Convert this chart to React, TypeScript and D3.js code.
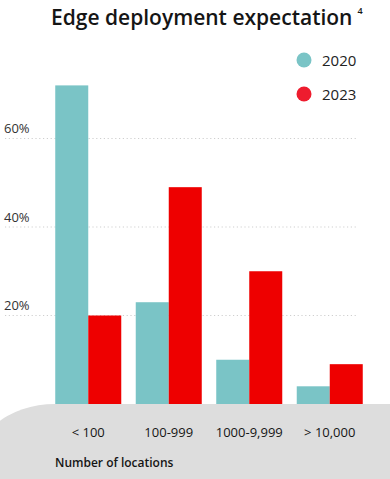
import {useEffect, useRef} from "react"
import * as d3 from "d3"

const categories = ["< 100", "100-999", "1000-9,999", "> 10,000"]
const series = ["2020", "2023"]
const values2020 = [72, 23, 10, 4]
const values2023 = [20, 49, 30, 9]
const yTicks = [20, 40, 60]

const colors = {bar2020: "#7ac4c6", bar2023: "#ee0000", legend2023: "#ee1c2e"}
const font = "'Open Sans', sans-serif"

const App = () => {
  const ref = useRef<SVGSVGElement>(null)

  useEffect(() => {
    const svg = d3.select(ref.current)
    svg.selectAll("*").remove()

    const x0 = d3.scaleBand().domain(categories).range([48, 370]).paddingInner(0.18).paddingOuter(0.09)
    const x1 = d3.scaleBand().domain(series).range([0, x0.bandwidth()])
    const y = d3.scaleLinear().domain([0, 20]).range([404, 315.5])

    // grey footer panel with rounded corner
    svg.append("rect")
      .attr("x", -30).attr("y", y(0))
      .attr("width", 460).attr("height", 200)
      .attr("rx", 85).attr("ry", 70)
      .attr("fill", "#dddddd")
    svg.append("rect")
      .attr("x", 100).attr("y", y(0))
      .attr("width", 300).attr("height", 100)
      .attr("fill", "#dddddd")

    // title
    const title = svg.append("text")
      .attr("x", 51).attr("y", 25)
      .attr("font-family", font).attr("font-size", 21).attr("font-weight", 600)
      .attr("fill", "#151515")
      .text("Edge deployment expectation")
    title.append("tspan").attr("dx", 5).attr("dy", -11).attr("font-size", 9).text("4")

    // grid
    const grid = svg.append("g")
    yTicks.forEach((t) => {
      grid.append("line")
        .attr("x1", 5).attr("x2", 358)
        .attr("y1", y(t)).attr("y2", y(t))
        .attr("stroke", "#cfcfcf").attr("stroke-width", 1.2)
        .attr("stroke-dasharray", "1.2,2.6")
      grid.append("text")
        .attr("x", 4).attr("y", y(t) - 5.5)
        .attr("font-family", font).attr("font-size", 13)
        .attr("fill", "#333")
        .text(`${t}%`)
    })

    // bars
    const rows = categories.map((c, i) => ({c, vals: [values2020[i], values2023[i]]}))
    const groups = svg.append("g").selectAll("g").data(rows).join("g")
      .attr("transform", (d) => `translate(${x0(d.c)},0)`)
    groups.selectAll("rect")
      .data((d) => d.vals.map((v, j) => ({k: series[j], v})))
      .join("rect")
      .attr("x", (d) => x1(d.k)!)
      .attr("width", x1.bandwidth())
      .attr("y", (d) => y(d.v))
      .attr("height", (d) => y(0) - y(d.v))
      .attr("fill", (d) => (d.k === "2020" ? colors.bar2020 : colors.bar2023))

    // x labels
    svg.append("g").selectAll("text").data(categories).join("text")
      .attr("x", (d) => x0(d)! + x0.bandwidth() / 2)
      .attr("y", 437)
      .attr("text-anchor", "middle")
      .attr("font-family", font).attr("font-size", 13)
      .attr("fill", "#151515")
      .text((d) => d)

    svg.append("text")
      .attr("x", 55).attr("y", 467)
      .attr("font-family", font).attr("font-size", 12).attr("font-weight", 600)
      .attr("fill", "#151515")
      .text("Number of locations")

    // legend
    const legend = svg.append("g").selectAll("g").data(series).join("g")
      .attr("transform", (_, i) => `translate(304,${60 + i * 34})`)
    legend.append("circle").attr("r", 7.5)
      .attr("fill", (d) => (d === "2020" ? colors.bar2020 : colors.legend2023))
    legend.append("text")
      .attr("x", 18).attr("y", 5.5)
      .attr("font-family", font).attr("font-size", 15)
      .attr("fill", "#222")
      .text((d) => d)
  }, [])

  return <svg ref={ref} width={390} height={479} style={{position: "absolute", left: 0, top: 0}} />
}

export default App
